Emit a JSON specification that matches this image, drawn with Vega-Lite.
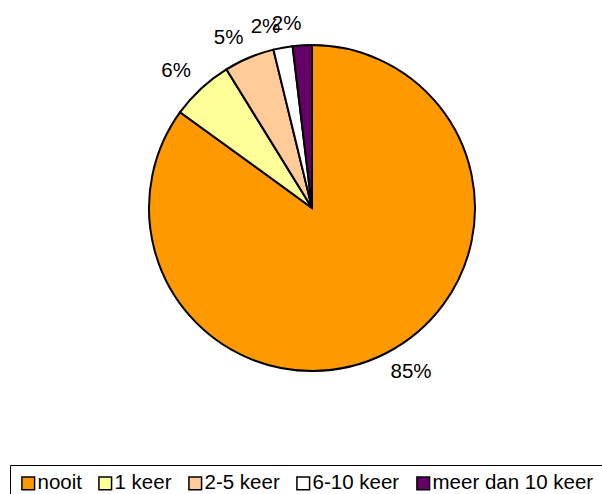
{
  "$schema": "https://vega.github.io/schema/vega-lite/v6.json",
  "width": 580,
  "height": 416,
  "autosize": {"type": "none"},
  "padding": {"left": 22, "top": 0, "right": 0, "bottom": 78},
  "background": "white",
  "config": {"view": {"stroke": null}, "font": "Liberation Sans"},
  "data": {
    "values": [
      {"idx": 1, "cat": "nooit", "value": 85.0, "label": "85%"},
      {"idx": 2, "cat": "1 keer", "value": 6.2, "label": "6%"},
      {"idx": 3, "cat": "2-5 keer", "value": 5.0, "label": "5%"},
      {"idx": 4, "cat": "6-10 keer", "value": 1.9, "label": "2%"},
      {"idx": 5, "cat": "meer dan 10 keer", "value": 1.9, "label": "2%"}
    ]
  },
  "encoding": {
    "theta": {"field": "value", "type": "quantitative", "stack": true},
    "order": {"field": "idx", "type": "quantitative"}
  },
  "layer": [
    {
      "mark": {"type": "arc", "outerRadius": 163, "stroke": "black", "strokeWidth": 2},
      "encoding": {
        "color": {
          "field": "cat",
          "type": "nominal",
          "scale": {
            "domain": ["nooit", "1 keer", "2-5 keer", "6-10 keer", "meer dan 10 keer"],
            "range": ["#FF9900", "#FFFF99", "#FFCC99", "#FFFFFF", "#660066"]
          },
          "legend": {
            "title": null,
            "orient": "none",
            "direction": "horizontal",
            "legendX": -12,
            "legendY": 465,
            "strokeColor": "black",
            "padding": 8,
            "symbolType": "square",
            "symbolSize": 160,
            "symbolStrokeColor": "black",
            "symbolStrokeWidth": 1.5,
            "symbolOpacity": 1,
            "labelFont": "Liberation Sans",
            "labelFontSize": 20.5,
            "labelColor": "black",
            "labelOffset": -1,
            "columnPadding": 13,
            "labelLimit": 300
          }
        }
      }
    },
    {
      "mark": {"type": "text", "radius": 173, "fontSize": 20.5, "font": "Liberation Sans", "color": "black", "align": "left", "baseline": "top"},
      "encoding": {
        "text": {"condition": {"test": "datum.idx == 1", "field": "label"}, "value": ""}
      }
    },
    {
      "mark": {"type": "text", "radius": 178, "fontSize": 20.5, "font": "Liberation Sans", "color": "black", "align": "right", "baseline": "alphabetic"},
      "encoding": {
        "text": {"condition": {"test": "datum.idx != 1", "field": "label"}, "value": ""}
      }
    }
  ]
}
